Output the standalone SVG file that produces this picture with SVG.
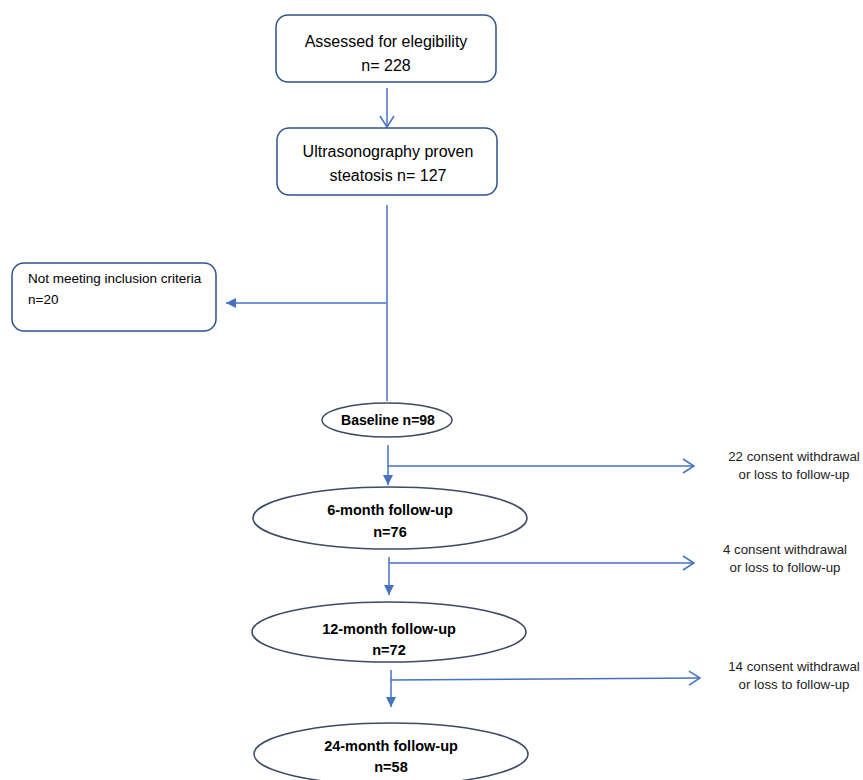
<svg xmlns="http://www.w3.org/2000/svg" width="863" height="780" viewBox="0 0 863 780">
<style>
text{font-family:"Liberation Sans",Arial,sans-serif;fill:#000}
.box{fill:#fff;stroke:#2F528F;stroke-width:1.5}
.ell{fill:#fff;stroke:#3B4A66;stroke-width:1.5}
.c{stroke:#4472C4;fill:none;stroke-width:1.5}
.t14{font-size:16px}
.t12{font-size:13.5px}
.b{font-size:14.5px;font-weight:bold}
.r{font-size:13.3px;fill:#222}
</style>
<defs>
<marker id="open" markerWidth="14" markerHeight="16" refX="12" refY="8" orient="auto" markerUnits="userSpaceOnUse">
<path d="M1,1 L12,8 L1,15" fill="none" stroke="#4472C4" stroke-width="1.5"/>
</marker>
<marker id="fill" markerWidth="12" markerHeight="12" refX="10" refY="6" orient="auto" markerUnits="userSpaceOnUse">
<path d="M0,1 L10,6 L0,11 Z" fill="#4472C4"/>
</marker>
</defs>
<g id="connectors">
<line class="c" x1="387" y1="88" x2="387" y2="127" marker-end="url(#open)"/>
<line class="c" x1="387" y1="205" x2="387" y2="401" stroke-width="1"/>
<line class="c" x1="386" y1="303" x2="226" y2="303" marker-end="url(#fill)"/>
<line class="c" x1="388" y1="445" x2="388" y2="485" marker-end="url(#fill)"/>
<line class="c" x1="388" y1="466" x2="694" y2="466" marker-end="url(#open)"/>
<line class="c" x1="389" y1="557" x2="389" y2="595" marker-end="url(#fill)"/>
<line class="c" x1="389" y1="563" x2="694" y2="563" marker-end="url(#open)"/>
<line class="c" x1="391" y1="670" x2="391" y2="707" marker-end="url(#fill)"/>
<line class="c" x1="391" y1="680" x2="700" y2="678" marker-end="url(#open)"/>
</g>
<g id="assessed">
<rect class="box" x="276" y="15" width="220" height="67" rx="12"/>
<text class="t14" x="386" y="47" text-anchor="middle">Assessed for elegibility</text>
<text class="t14" x="386" y="71" text-anchor="middle">n= 228</text>
</g>
<g id="ultrasonography">
<rect class="box" x="277" y="128" width="220" height="67" rx="12"/>
<text class="t14" x="388" y="157" text-anchor="middle">Ultrasonography proven</text>
<text class="t14" x="388" y="181" text-anchor="middle">steatosis n= 127</text>
</g>
<g id="excluded">
<rect class="box" x="12" y="263" width="204" height="68" rx="12"/>
<text class="t12" x="28" y="283">Not meeting inclusion criteria</text>
<text class="t12" x="28" y="304">n=20</text>
</g>
<g id="baseline">
<ellipse class="ell" cx="387" cy="420" rx="65" ry="17"/>
<text class="b" x="388" y="425" text-anchor="middle" style="font-size:14px">Baseline n=98</text>
</g>
<g id="m6">
<ellipse class="ell" cx="390" cy="518" rx="137" ry="31"/>
<text class="b" x="390" y="515" text-anchor="middle">6-month follow-up</text>
<text class="b" x="390" y="537" text-anchor="middle">n=76</text>
</g>
<g id="m12">
<ellipse class="ell" cx="389" cy="632" rx="137" ry="30"/>
<text class="b" x="389" y="634" text-anchor="middle">12-month follow-up</text>
<text class="b" x="389" y="655" text-anchor="middle">n=72</text>
</g>
<g id="m24">
<ellipse class="ell" cx="391" cy="754" rx="137" ry="31"/>
<text class="b" x="391" y="751" text-anchor="middle">24-month follow-up</text>
<text class="b" x="391" y="772" text-anchor="middle">n=58</text>
</g>
<g id="loss1">
<text class="r" x="794" y="461" text-anchor="middle">22 consent withdrawal</text>
<text class="r" x="794" y="479" text-anchor="middle">or loss to follow-up</text>
</g>
<g id="loss2">
<text class="r" x="785" y="554" text-anchor="middle">4 consent withdrawal</text>
<text class="r" x="785" y="572" text-anchor="middle">or loss to follow-up</text>
</g>
<g id="loss3">
<text class="r" x="794" y="671" text-anchor="middle">14 consent withdrawal</text>
<text class="r" x="794" y="689" text-anchor="middle">or loss to follow-up</text>
</g>
</svg>
